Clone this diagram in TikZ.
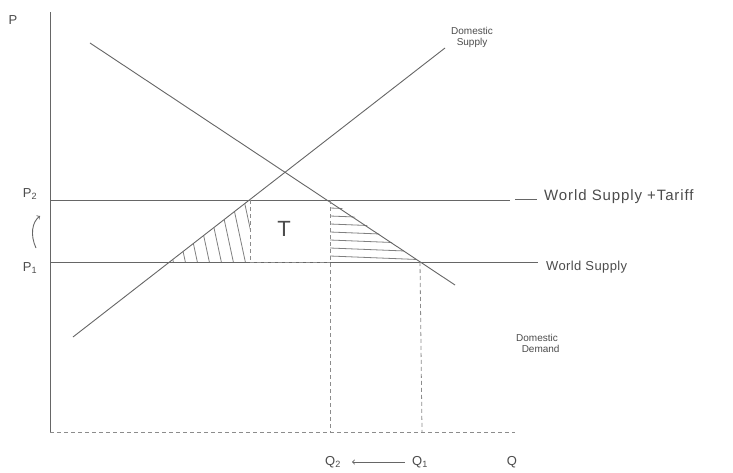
\documentclass[tikz,border=0pt]{standalone}
\usepackage{fontspec}
\setmainfont{Liberation Sans}
\begin{document}
\begin{tikzpicture}[x=1pt,y=-1pt,
  ink/.style={draw=black!60, line width=0.9pt},
  dashline/.style={draw=black!45, line width=0.8pt, dash pattern=on 4pt off 3pt},
  hatch/.style={draw=black!50, line width=0.8pt},
  lbl/.style={text=black!70, font=\fontsize{13}{15}\selectfont, inner sep=1pt},
  tlbl/.style={text=black!70, font=\fontsize{10}{11}\selectfont, inner sep=1pt, align=left}]
\useasboundingbox[fill=white] (0,0) rectangle (733,473);
% key points
\coordinate (O) at (50,432);
\coordinate (Ytop) at (50,12);
\coordinate (Xend) at (515,432);
\coordinate (S0) at (73,337);
\coordinate (S1) at (445,48);
\coordinate (D0) at (90,43);
\coordinate (D1) at (455,285);
\coordinate (P2a) at (50,200);
\coordinate (P2b) at (510,200);
\coordinate (P1a) at (50,262);
\coordinate (P1b) at (538,262);
\coordinate (A) at (250,200);
\coordinate (B) at (250,262);
\coordinate (C) at (170,262);
\coordinate (E) at (330,200);
\coordinate (F) at (330,262);
\coordinate (G) at (420,262);
\coordinate (Q2b) at (330,432);
\coordinate (Q1b) at (422,432);
% hatching
\begin{scope}
  \clip (A) -- (B) -- (C) -- cycle;
  \foreach \x in {160,172,...,260} \draw[hatch] (\x,200) -- (\x+14,265);
\end{scope}
\begin{scope}
  \clip (E) -- (F) -- (G) -- cycle;
  \foreach \y in {208,216,...,262} \draw[hatch] (330,\y) -- (430,\y+4);
\end{scope}
% axes
\draw[ink] (O) -- (Ytop);
\draw[dashline] (O) -- (Xend);
% price lines
\draw[ink] (P2a) -- (P2b);
\draw[ink] (P1a) -- (P1b);
% supply and demand
\draw[ink] (S0) -- (S1);
\draw[ink] (D0) -- (D1);
% dashed verticals
\draw[dashline] (A) -- (B);
\draw[dashline] (E) -- (Q2b);
\draw[dashline] (G) -- (Q1b);
\draw[dashline] (B) -- (F);
% labels
\node[lbl] (P) at (13,20) {P};
\node[lbl] (p2) at (30,194) {P\textsubscript{2}};
\node[lbl] (p1) at (30,268) {P\textsubscript{1}};
\coordinate (arrA) at (36,248);
\coordinate (arrB) at (40,216);
\draw[ink,->] (arrA) .. controls (30,235) and (32,222) .. (arrB);
\node[lbl, font=\fontsize{22}{24}\selectfont] (T) at (284,229) {T};
\node[tlbl, anchor=north west] (ds) at (450,26) {Domestic\\\ \ Supply};
\coordinate (wl0) at (515,199);
\coordinate (wl1) at (537,199);
\draw[ink] (wl0) -- (wl1);
\node[lbl, anchor=west, font=\fontsize{15}{17}\selectfont\addfontfeatures{LetterSpace=6}] (wst) at (543,197) {World Supply +Tariff};
\node[lbl, anchor=west, font=\fontsize{13}{15}\selectfont\addfontfeatures{LetterSpace=3}] (ws) at (545,267) {World Supply};
\node[tlbl, anchor=north west] (dd) at (515,333) {Domestic\\\ \ Demand};
\node[lbl] (q2) at (333,462) {Q\textsubscript{2}};
\node[lbl] (q1) at (420,462) {Q\textsubscript{1}};
\node[lbl] (q) at (512,462) {Q};
\draw[ink,->, shorten >=10pt, shorten <=6pt] (q1.west) -- (q2.east);
\end{tikzpicture}
\end{document}
